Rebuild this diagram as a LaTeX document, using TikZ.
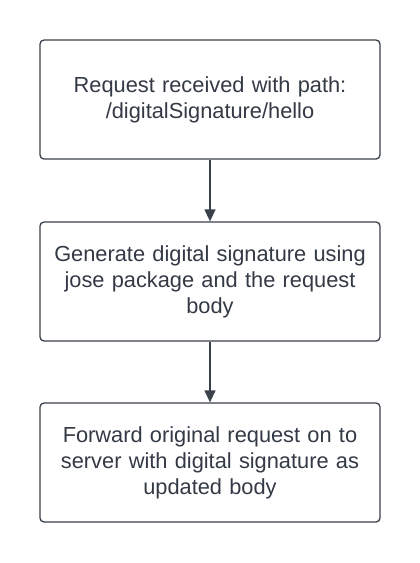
\documentclass[tikz,border=0pt]{standalone}
\usepackage{fontspec}
\setmainfont{Liberation Sans}
\usetikzlibrary{arrows.meta}
\definecolor{linec}{HTML}{3A414A}
\definecolor{textc}{HTML}{333A45}
\begin{document}
\begin{tikzpicture}[x=1pt,y=-1pt,
  procbox/.style={draw=linec, line width=1.3pt, rounded corners=4pt, fill=white,
    minimum width=340pt, minimum height=119pt, text width=336pt, align=center,
    inner sep=0pt, text=textc, font=\fontsize{21.8pt}{26pt}\selectfont},
  flow/.style={draw=linec, line width=1.3pt, -{Triangle[width=11pt,length=12pt]}}]
\useasboundingbox (0,0) rectangle (420,563);
\node[procbox] (a) at (210,99.5) {Request received with path:\\/digitalSignature/hello};
\node[procbox] (b) at (210,281.5) {Generate digital signature using\\jose package and the request\\body};
\node[procbox] (c) at (210,462.5) {Forward original request on to\\server with digital signature as\\updated body};
\draw[flow] (a) -- (b);
\draw[flow] (b) -- (c);
\end{tikzpicture}
\end{document}
